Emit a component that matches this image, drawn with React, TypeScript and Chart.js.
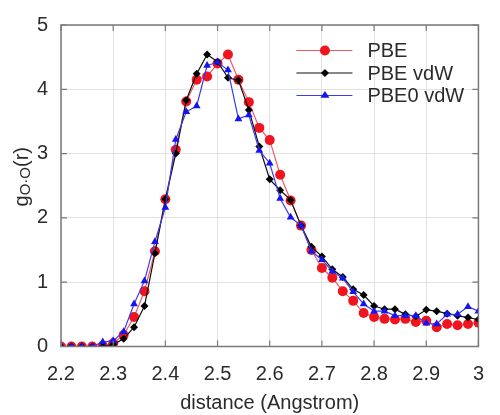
import React, { useEffect, useRef } from "react";
import { Chart, registerables } from "chart.js";

Chart.register(...registerables);

// ---- data ----
const distance = [
  2.2, 2.22, 2.24, 2.26, 2.28, 2.3, 2.32, 2.34, 2.36, 2.38,
  2.4, 2.42, 2.44, 2.46, 2.48, 2.5, 2.52, 2.54, 2.56, 2.58,
  2.6, 2.62, 2.64, 2.66, 2.68, 2.7, 2.72, 2.74, 2.76, 2.78,
  2.8, 2.82, 2.84, 2.86, 2.88, 2.9, 2.92, 2.94, 2.96, 2.98, 3.0,
];
const pbe = [
  0, 0, 0, 0, 0.01, 0.05, 0.18, 0.46, 0.86, 1.48,
  2.29, 3.06, 3.81, 4.15, 4.2, 4.4, 4.54, 4.15, 3.8, 3.4,
  3.21, 2.67, 2.27, 1.88, 1.5, 1.22, 1.07, 0.86, 0.71, 0.52,
  0.46, 0.43, 0.42, 0.43, 0.38, 0.4, 0.3, 0.35, 0.33, 0.35, 0.37,
];
const pbeVdw = [
  0, 0, 0, 0, 0, 0.03, 0.12, 0.3, 0.63, 1.45,
  2.29, 3.0, 3.83, 4.24, 4.54, 4.43, 4.18, 4.14, 3.68, 3.11,
  2.6, 2.43, 2.28, 1.88, 1.55, 1.4, 1.2, 1.08, 0.89, 0.8,
  0.63, 0.58, 0.58, 0.5, 0.47, 0.57, 0.55, 0.51, 0.48, 0.45, 0.42,
];
const pbe0Vdw = [
  0, 0, 0, 0, 0.07, 0.09, 0.23, 0.66, 1.02, 1.63,
  2.16, 3.22, 3.65, 3.74, 4.37, 4.42, 4.3, 3.54, 3.6, 3.05,
  2.85, 2.3, 2.01, 1.88, 1.48, 1.35, 1.17, 1.06, 0.85, 0.66,
  0.55, 0.55, 0.48, 0.48, 0.48, 0.36, 0.35, 0.5, 0.5, 0.62, 0.55,
];
const seriesNames = ["PBE", "PBE vdW", "PBE0 vdW"];
const xTicks = [2.2, 2.3, 2.4, 2.5, 2.6, 2.7, 2.8, 2.9, 3.0];
const yTicks = [0, 1, 2, 3, 4, 5];
const xTitle = "distance (Angstrom)";
const yTitleParts = ["g", "O·O", "(r)"];

const FONT = '"Liberation Sans", Arial, Helvetica, sans-serif';
const TEXT = "#2b2b2b";
const COLORS = ["#f0141e", "#000000", "#1414f0"];
const LINE_COLORS = ["#f05a64", "#101010", "#3c3cf0"];
const STYLES = ["circle", "rectRot", "triangle"];
const RADII = [5, 4, 4.5];

function drawMarker(ctx: CanvasRenderingContext2D, style: string, x: number, y: number, r: number, color: string) {
  ctx.save();
  ctx.fillStyle = color;
  ctx.beginPath();
  if (style === "circle") {
    ctx.arc(x, y, r, 0, Math.PI * 2);
  } else if (style === "rectRot") {
    ctx.moveTo(x, y - r);
    ctx.lineTo(x + r, y);
    ctx.lineTo(x, y + r);
    ctx.lineTo(x - r, y);
    ctx.closePath();
  } else {
    const h = r * 1.5;
    ctx.moveTo(x, y - h * 0.66);
    ctx.lineTo(x + r, y + h * 0.34);
    ctx.lineTo(x - r, y + h * 0.34);
    ctx.closePath();
  }
  ctx.fill();
  ctx.restore();
}

const decorPlugin = {
  id: "decor",
  afterDatasetsDraw(chart: any) {
    const { ctx, chartArea } = chart;
    const { left, right, top, bottom } = chartArea;
    const xs = chart.scales.x;
    const ys = chart.scales.y;
    ctx.save();
    // frame
    ctx.strokeStyle = "#7a7a7a";
    ctx.lineWidth = 1.5;
    ctx.strokeRect(left, top, right - left, bottom - top);
    // inward ticks
    ctx.lineWidth = 1.2;
    const tl = 6;
    xTicks.forEach((v) => {
      const px = xs.getPixelForValue(v);
      ctx.beginPath();
      ctx.moveTo(px, bottom);
      ctx.lineTo(px, bottom - tl);
      ctx.moveTo(px, top);
      ctx.lineTo(px, top + tl);
      ctx.stroke();
    });
    yTicks.forEach((v) => {
      const py = ys.getPixelForValue(v);
      ctx.beginPath();
      ctx.moveTo(left, py);
      ctx.lineTo(left + tl, py);
      ctx.moveTo(right, py);
      ctx.lineTo(right - tl, py);
      ctx.stroke();
    });

    // legend
    const rowY = [top + 25.5, top + 48, top + 70.5];
    const lx0 = right - 182;
    const lx1 = right - 126;
    const mx = right - 153.5;
    const tx = right - 111;
    ctx.font = `20px ${FONT}`;
    ctx.textBaseline = "middle";
    ctx.textAlign = "left";
    seriesNames.forEach((name, i) => {
      const y = rowY[i];
      ctx.strokeStyle = LINE_COLORS[i];
      ctx.lineWidth = 1.2;
      ctx.beginPath();
      ctx.moveTo(lx0, y);
      ctx.lineTo(lx1, y);
      ctx.stroke();
      drawMarker(ctx, STYLES[i], mx, y, RADII[i], COLORS[i]);
      ctx.fillStyle = TEXT;
      ctx.fillText(name, tx, y + 1);
    });

    // x title
    ctx.fillStyle = TEXT;
    ctx.font = `20px ${FONT}`;
    ctx.textAlign = "center";
    ctx.textBaseline = "middle";
    ctx.fillText(xTitle, (left + right) / 2, 403);

    // y title with subscript
    ctx.save();
    ctx.translate(28, (top + bottom) / 2 - 9);
    ctx.rotate(-Math.PI / 2);
    ctx.textAlign = "left";
    ctx.textBaseline = "alphabetic";
    const mainFont = `20px ${FONT}`;
    const subFont = `15px ${FONT}`;
    ctx.font = mainFont;
    const w0 = ctx.measureText(yTitleParts[0]).width;
    const w2 = ctx.measureText(yTitleParts[2]).width;
    ctx.font = subFont;
    const w1 = ctx.measureText(yTitleParts[1]).width;
    const total = w0 + w1 + w2;
    let x = -total / 2;
    ctx.font = mainFont;
    ctx.fillText(yTitleParts[0], x, 0);
    x += w0;
    ctx.font = subFont;
    ctx.fillText(yTitleParts[1], x, 2);
    x += w1;
    ctx.font = mainFont;
    ctx.fillText(yTitleParts[2], x, 0);
    ctx.restore();

    ctx.restore();
  },
};

export default function App() {
  const canvasRef = useRef<HTMLCanvasElement | null>(null);

  useEffect(() => {
    document.body.style.margin = "0";
    const canvas = canvasRef.current;
    if (!canvas) return;
    const seriesData = [pbe, pbeVdw, pbe0Vdw];
    const chart = new Chart(canvas, {
      type: "line",
      data: {
        datasets: seriesData.map((vals, i) => ({
          label: seriesNames[i],
          data: distance.map((d, k) => ({ x: d, y: vals[k] })),
          borderColor: LINE_COLORS[i],
          backgroundColor: COLORS[i],
          pointBackgroundColor: COLORS[i],
          pointBorderColor: COLORS[i],
          pointBorderWidth: 0,
          pointStyle: STYLES[i] as any,
          pointRadius: RADII[i],
          borderWidth: 1.2,
          tension: 0,
          fill: false,
          order: 3 - i,
        })),
      },
      options: {
        responsive: false,
        animation: false,
        devicePixelRatio: 1,
        layout: { padding: { top: 19, right: 6, left: 0, bottom: 0 } },
        plugins: {
          legend: { display: false },
          tooltip: { enabled: false },
          title: { display: false },
        },
        scales: {
          x: {
            type: "linear",
            min: 2.2,
            max: 3.0,
            afterBuildTicks: (scale: any) => {
              scale.ticks = xTicks.map((v) => ({ value: v }));
            },
            afterFit: (scale: any) => {
              scale.height = 68.5;
            },
            grid: { color: "#e2e2e2", lineWidth: 1, drawTicks: false },
            border: { display: false },
            ticks: {
              padding: 16,
              color: TEXT,
              font: { family: FONT, size: 20 },
              maxRotation: 0,
              autoSkip: false,
              callback: (v: any) => String(Number(Number(v).toFixed(1))),
            },
          },
          y: {
            type: "linear",
            min: 0,
            max: 5,
            afterBuildTicks: (scale: any) => {
              scale.ticks = yTicks.map((v) => ({ value: v }));
            },
            afterFit: (scale: any) => {
              scale.width = 61;
            },
            grid: { color: "#e2e2e2", lineWidth: 1, drawTicks: false },
            border: { display: false },
            ticks: {
              padding: 13,
              color: TEXT,
              font: { family: FONT, size: 20 },
              callback: (v: any) => String(v),
            },
          },
        },
      },
      plugins: [decorPlugin],
    });
    return () => chart.destroy();
  }, []);

  return (
    <div style={{ width: 500, height: 415 }}>
      <canvas ref={canvasRef} width={500} height={415} style={{ display: "block" }} />
    </div>
  );
}
